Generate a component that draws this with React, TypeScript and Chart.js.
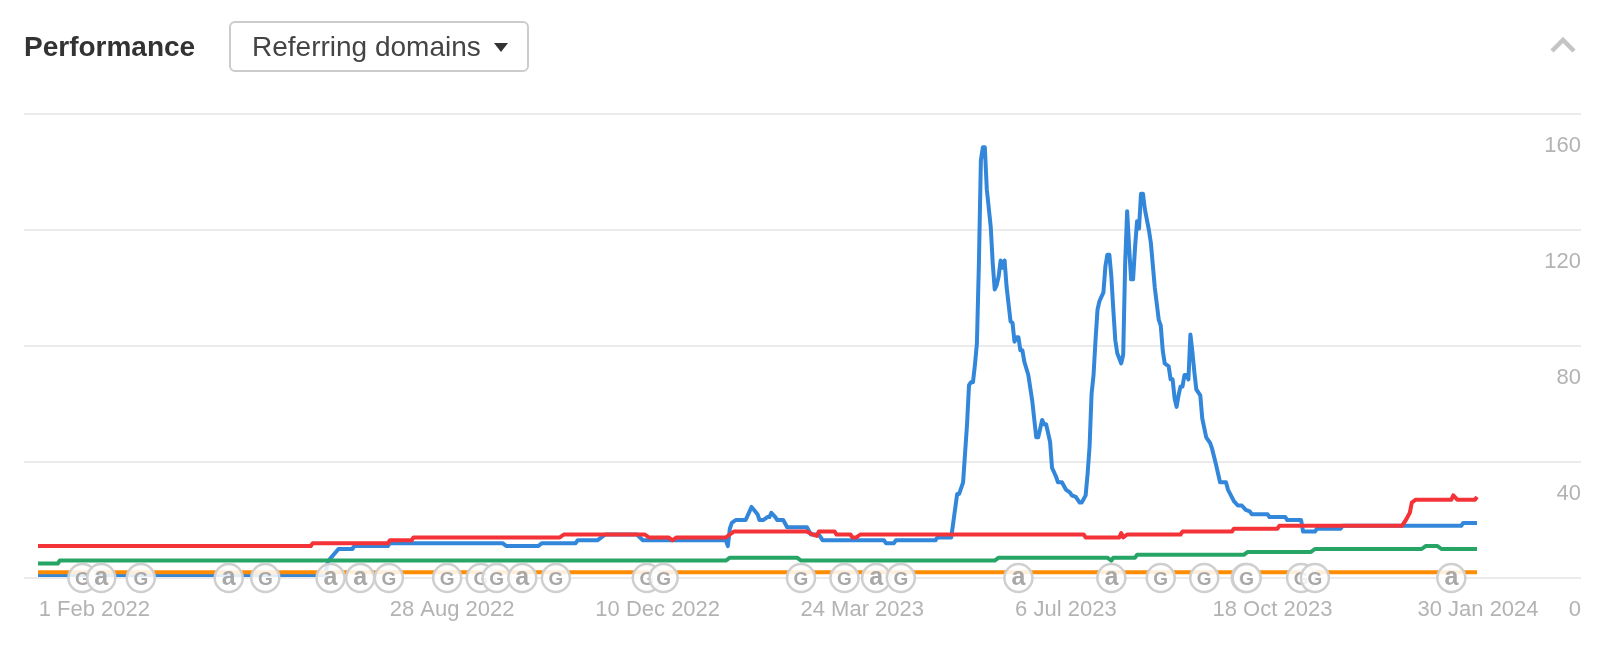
import { useEffect, useRef } from "react"
import { Chart, registerables } from "chart.js"

Chart.register(...registerables)

// x values are days since 1 Feb 2022
const blueDays = [
  0, 145, 147, 152, 159, 160, 177, 178, 235, 237, 253, 255, 272, 273, 283, 285, 287, 303, 306, 348, 349, 350, 351, 353,
  358, 361, 364, 365, 367, 369, 370, 371, 373, 374, 377, 379, 389, 391, 395, 397, 428, 429, 433, 434, 454, 455, 462,
  465, 466, 468, 469, 470, 471, 472, 473, 474, 475, 476, 477, 478, 479, 480, 482, 483, 484, 485, 486, 487, 488, 489,
  490, 492, 493, 494, 495, 496, 497, 498, 499, 501, 503, 505, 506, 508, 509, 510, 512, 513, 515, 516, 518, 520, 522,
  523, 525, 527, 528, 530, 531, 532, 533, 534, 535, 536, 537, 539, 540, 541, 542, 543, 544, 545, 546, 548, 549, 550,
  551, 552, 553, 554, 555, 556, 557, 558, 559, 560, 562, 563, 565, 567, 568, 569, 570, 572, 573, 574, 575, 576, 577,
  578, 579, 580, 581, 582, 583, 584, 585, 586, 588, 589, 591, 593, 594, 596, 598, 601, 602, 605, 607, 609, 611, 613,
  614, 622, 623, 631, 632, 639, 640, 646, 647, 659, 660, 720, 721, 728,
]
const blueValues = [
  1, 1, 6, 10, 10, 11, 11, 12, 12, 11, 11, 12, 12, 13, 13, 14, 15, 15, 13, 13, 11, 17, 19, 20,
  20, 24.5, 22, 20, 20, 21, 21, 22.5, 21, 20, 20, 17.5, 17.5, 15, 15, 13, 13, 12, 12, 13, 13, 14, 14,
  29, 29, 33, 43, 53, 66.5, 67.5, 67.5, 73.5, 81, 108.5, 144, 148.5, 148.5, 134, 121, 108.5, 99.5, 101, 104, 109.5, 107, 109.5,
  100.5, 88.5, 88, 81.5, 83, 83, 78.5, 78.5, 74.5, 70, 61, 48.5, 48.5, 54.5, 53, 53, 47, 38, 35, 33, 33, 30.5, 29.5,
  28.5, 28, 26, 26, 28.5, 36, 45.5, 63.5, 70, 82, 92.5, 95.5, 98.5, 107.5, 111.5, 111.5, 104, 92.5, 82, 77.5, 74, 77, 108.5,
  126.5, 114, 103, 103, 114, 123, 120.5, 132.5, 132.5, 127, 120, 115.5, 100, 89, 87, 78.5, 74, 73, 68.5, 68.5, 62, 59, 63,
  66, 66, 70, 70, 68.5, 84, 78, 71, 65, 63, 55, 48.5, 46.5, 44.5, 39, 33, 33, 30.5, 26.5, 25, 25, 23.5, 23,
  22, 22, 21, 21, 20, 20, 16, 16, 17, 17, 18, 18, 19, 19,
]

const redDays = [
  0, 138, 139, 177, 178, 189, 190, 264, 266, 307, 309, 319, 321, 323, 348, 350, 352, 389, 392, 394, 395, 403, 404, 411,
  412, 414, 416, 529, 530, 547, 548, 549, 551, 578, 579, 604, 605, 627, 628, 690, 692, 694, 695, 697, 715, 716, 718,
  727, 728,
]
const redValues = [
  11, 11, 12, 12, 13, 13, 14, 14, 15, 15, 14, 14, 13, 14, 14, 15, 16, 16, 15, 14.5, 16, 16, 15, 15,
  14, 14, 15, 15, 14, 14, 15.5, 14, 15, 15, 16, 16, 17, 17, 18, 18, 20, 22.5, 26, 27, 27, 28.5, 27,
  27, 28,
]

const greenDays = [0, 10, 11, 348, 350, 384, 386, 484, 486, 541, 543, 544, 555, 556, 610, 612, 644, 646, 700, 702, 708, 710, 728]
const greenValues = [5, 5, 6, 6, 7, 7, 6, 6, 7, 7, 6, 7, 7, 8, 8, 9, 9, 10, 10, 11, 11, 10, 10]

const orangeDays = [0, 728]
const orangeValues = [2, 2]

// the first label sits right of its date so it stays clear of the plot edge
const xTickDays = [28.5, 209.5, 313.5, 417, 520, 624.5, 728.5]
const xTickLabels = ["1 Feb 2022", "28 Aug 2022", "10 Dec 2022", "24 Mar 2023", "6 Jul 2023", "18 Oct 2023", "30 Jan 2024"]

const markerDays = [
  22.5, 32, 52, 96.5, 115, 148, 163, 177.5, 207, 224, 232, 245, 262, 308, 316.5, 386, 408, 424, 436.5, 496, 543, 568,
  590, 611, 611.5, 639, 646, 715,
]
const markerKinds = [
  "G", "a", "G", "a", "G", "a", "a", "G", "G", "G", "G", "a", "G", "G", "G", "G", "G", "a", "G", "a", "a", "G",
  "G", "G", "G", "G", "G", "a",
]

const toPoints = (days: number[], values: number[]) => days.map((d, i) => ({ x: d, y: values[i] }))

const markerPlugin = {
  id: "markers",
  afterDatasetsDraw(chart: any) {
    const { ctx, scales } = chart
    ctx.save()
    markerDays.forEach((day, i) => {
      const x = scales.x.getPixelForValue(day)
      const y = scales.y.getPixelForValue(0)
      ctx.beginPath()
      ctx.arc(x, y, 14, 0, Math.PI * 2)
      ctx.fillStyle = "rgba(255,255,255,0.85)"
      ctx.fill()
      ctx.lineWidth = 2.5
      ctx.strokeStyle = "#cfcfcf"
      ctx.stroke()
      ctx.fillStyle = "#a8a8a8"
      ctx.textAlign = "center"
      ctx.textBaseline = "alphabetic"
      ctx.font = markerKinds[i] === "a" ? "bold 25px 'Liberation Sans'" : "bold 19px 'Liberation Sans'"
      ctx.fillText(markerKinds[i], x, y + 7)
    })
    ctx.restore()
  },
}

export default function App() {
  const chartRef = useRef<HTMLCanvasElement>(null)

  useEffect(() => {
    if (!chartRef.current) return
    const chart = new Chart(chartRef.current, {
      type: "line",
      data: {
        datasets: [
          { label: "Red", data: toPoints(redDays, redValues), borderColor: "#f43338" },
          { label: "Green", data: toPoints(greenDays, greenValues), borderColor: "#27a567" },
          { label: "Orange", data: toPoints(orangeDays, orangeValues), borderColor: "#ff8c05" },
          { label: "Blue", data: toPoints(blueDays, blueValues), borderColor: "#3287da" },
        ],
      },
      options: {
        responsive: false,
        animation: false,
        layout: { padding: { left: 24, right: 31, top: 114, bottom: 0 } },
        elements: {
          point: { radius: 0 },
          line: { borderWidth: 4, tension: 0, borderJoinStyle: "round" },
        },
        plugins: { legend: { display: false }, tooltip: { enabled: false } },
        scales: {
          x: {
            type: "linear",
            min: -7.08,
            max: 780.6,
            grid: { display: false },
            border: { display: false },
            afterFit: (scale: any) => {
              scale.height = 70
            },
            afterBuildTicks: (scale: any) => {
              scale.ticks = xTickDays.map((value) => ({ value }))
            },
            ticks: {
              autoSkip: false,
              maxRotation: 0,
              padding: 11,
              color: "#b3b3b3",
              font: { family: "'Liberation Sans'", size: 22 },
              callback: (value: any) => xTickLabels[xTickDays.indexOf(value)],
            },
          },
          y: {
            position: "right",
            min: 0,
            max: 160,
            afterFit: (scale: any) => {
              scale.width = 0
            },
            grid: { color: "#ebebeb", lineWidth: 2, drawTicks: false },
            border: { display: false },
            ticks: {
              stepSize: 40,
              mirror: true,
              padding: 0,
              labelOffset: 32,
              color: "#b3b3b3",
              font: { family: "'Liberation Sans'", size: 22 },
            },
          },
        },
      },
      plugins: [markerPlugin],
    } as any)

    return () => chart.destroy()
  }, [])

  return (
    <div style={{ position: "absolute", left: 0, top: 0, width: 1612, height: 648, background: "#fff", fontFamily: "'Liberation Sans'" }}>
      <canvas ref={chartRef} width={1612} height={648} style={{ display: "block" }}></canvas>
      <div style={{ position: "absolute", left: 24, top: 30, fontSize: 28, lineHeight: "34px", fontWeight: 700, color: "#333" }}>Performance</div>
      <div
        style={{
          position: "absolute",
          left: 229,
          top: 21,
          width: 300,
          height: 51,
          boxSizing: "border-box",
          border: "2px solid #cccccc",
          borderRadius: 6,
          color: "#444",
          fontSize: 28,
          lineHeight: "47px",
          paddingLeft: 21,
          whiteSpace: "nowrap",
        }}
      >
        Referring domains
        <span style={{ position: "absolute", left: 263, top: 20, width: 0, height: 0, borderLeft: "7px solid transparent", borderRight: "7px solid transparent", borderTop: "9px solid #333" }}></span>
      </div>
      <svg style={{ position: "absolute", left: 1549, top: 35 }} width="28" height="20">
        <polyline points="3,16 14,5 25,16" fill="none" stroke="#c4c4c4" strokeWidth="4.5" />
      </svg>
    </div>
  )
}
